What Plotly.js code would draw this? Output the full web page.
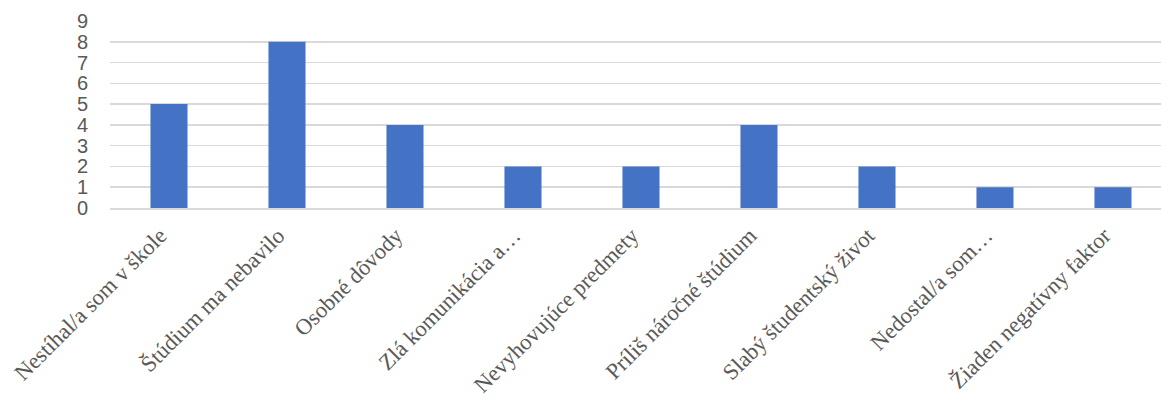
<!DOCTYPE html>
<html>
<head>
<meta charset="utf-8">
<script src="https://cdn.plot.ly/plotly-3.0.1.min.js"></script>
<style>html,body{margin:0;padding:0;background:#fff;overflow:hidden;}#chart{width:1162px;height:403px;}</style>
</head>
<body>
<div id="chart"></div>
<script>
const categories = [
  "Nestíhal/a som v škole",
  "Štúdium ma nebavilo",
  "Osobné dôvody",
  "Zlá komunikácia a…",
  "Nevyhovujúce predmety",
  "Príliš náročné štúdium",
  "Slabý študentský život",
  "Nedostal/a som…",
  "Žiaden negatívny faktor"
];
const values = [5, 8, 4, 2, 2, 4, 2, 1, 1];
const yTicks = [0, 1, 2, 3, 4, 5, 6, 7, 8, 9];

const trace = {
  type: "bar",
  x: categories,
  y: values,
  marker: { color: "#4472C4" },
  hoverinfo: "x+y"
};

const layout = {
  width: 1162,
  height: 403,
  margin: { l: 110, r: 1, t: 21, b: 195 },
  paper_bgcolor: "#ffffff",
  plot_bgcolor: "#ffffff",
  bargap: 0.686,
  showlegend: false,
  xaxis: {
    type: "category",
    range: [-0.5, 8.407],
    tickangle: -45,
    tickfont: { family: "Liberation Serif, Times New Roman, serif", size: 22.5, color: "#595959" },
    showgrid: false,
    showline: true,
    linecolor: "#d9d9d9",
    linewidth: 1.5,
    ticks: "",
    ticklabelstandoff: 4,
    ticklabelshift: -9,
    automargin: false
  },
  yaxis: {
    range: [0, 9],
    tickvals: yTicks,
    ticktext: yTicks.map(String),
    tickfont: { family: "Liberation Sans, Arial, sans-serif", size: 20, color: "#595959" },
    showgrid: true,
    gridcolor: "#d9d9d9",
    gridwidth: 1.5,
    zeroline: false,
    showline: false,
    ticks: "",
    ticklabelstandoff: 21,
    automargin: false
  }
};

Plotly.newPlot("chart", [trace], layout, { displayModeBar: false, staticPlot: true });
</script>
</body>
</html>
